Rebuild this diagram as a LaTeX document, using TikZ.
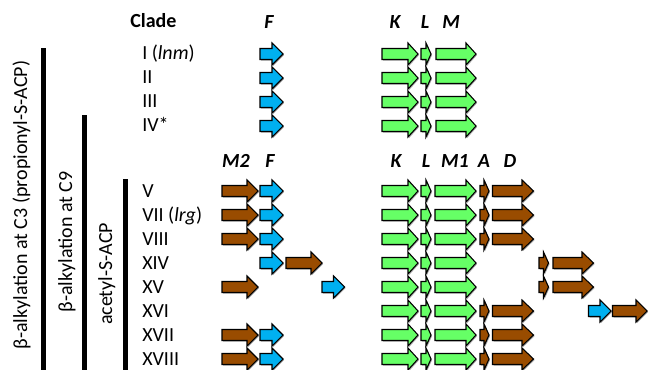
\documentclass[tikz,border=0pt]{standalone}
\usepackage{fontspec}
\setmainfont{Carlito}

\definecolor{genblue}{RGB}{0,176,240}
\definecolor{gengreen}{RGB}{102,255,102}
\definecolor{genbrown}{RGB}{153,76,0}

\tikzset{
  txt/.style={inner sep=0pt, font=\fontsize{15}{18}\selectfont},
  clade/.style={txt, anchor=base west},
  genehead/.style={txt, anchor=base, font=\fontsize{15}{18}\selectfont\bfseries\itshape},
  sidelabel/.style={txt, anchor=base, rotate=90},
  genebody/.style={draw=black, line width=0.8pt, line join=miter},
  geneshadow/.style={fill=black, opacity=0.35, xshift=0.8pt, yshift=-0.8pt},
  bar/.style={fill=black}
}

% gene arrow outline: x start, x end, y centre, head length
\newcommand\geneshape[4]{(#1,#3-5.5) -- (#2-#4,#3-5.5) -- (#2-#4,#3-11) -- (#2,#3)
  -- (#2-#4,#3+11) -- (#2-#4,#3+5.5) -- (#1,#3+5.5) -- cycle}
% gene arrow: colour, x start, x end, y centre, head length
\newcommand\gene[5]{%
  \path[geneshadow] \geneshape{#2}{#3}{#4}{#5};
  \draw[genebody, fill=#1] \geneshape{#2}{#3}{#4}{#5};}

\begin{document}
\begin{tikzpicture}[x=0.75pt, y=-0.75pt]
\useasboundingbox (0,0) rectangle (648,370);

% column headings
\node[clade] (hclade) at (130,28) {\textbf{Clade}};
\node[genehead] (hF1) at (269,29) {F};
\node[genehead] (hK1) at (395,29) {K};
\node[genehead] (hL1) at (425,29) {L};
\node[genehead] (hM1) at (451,29) {M};

\node[genehead] (hM2b) at (236,168) {M2};
\node[genehead] (hFb) at (270,168) {F};
\node[genehead] (hKb) at (396,168) {K};
\node[genehead] (hLb) at (426,168) {L};
\node[genehead] (hMb) at (455,168) {M1};
\node[genehead] (hAb) at (484,168) {A};
\node[genehead] (hDb) at (510,168) {D};

% grouping bars and their labels
\fill[bar] (41,48) rectangle (46,370);
\fill[bar] (82,115) rectangle (87,370);
\fill[bar] (123,179) rectangle (128,370);
\node[sidelabel] (g1) at (27,205) {β-alkylation at C3 (propionyl-S-ACP)};
\node[sidelabel] (g2) at (72,242) {β-alkylation at C9};
\node[sidelabel] (g3) at (112,274) {acetyl-S-ACP};

% clades with propionyl starter
\foreach \y/\lab [count=\i] in {54/{I (\textit{lnm})},78/II,102/III,126/{IV*}} {
  \node[clade] (ca\i) at (142,\y+6) {\lab};
  \gene{genblue}{260}{283}{\y}{11}
  \gene{gengreen}{382}{418}{\y}{10}
  \gene{gengreen}{421}{431}{\y}{5}
  \gene{gengreen}{436}{476}{\y}{10}
}

% clades with acetyl starter
\foreach \y/\lab [count=\i] in {191/V,215/{VII (\textit{lrg})},239/VIII,263/XIV,287/XV,311/XVI,335/XVII,359/XVIII} {
  \node[clade] (cb\i) at (142,\y+6) {\lab};
  \gene{gengreen}{382}{418}{\y}{10}
  \gene{gengreen}{421}{431}{\y}{5}
  \gene{gengreen}{435}{476}{\y}{10}
}

% M2 + F upstream pairs
\foreach \y in {191,215,239,335,359} {
  \gene{genbrown}{222}{258}{\y}{11}
  \gene{genblue}{260}{283}{\y}{11}
}
% A + D downstream pairs
\foreach \y in {191,215,239,311,335,359} {
  \gene{genbrown}{480}{489}{\y}{5}
  \gene{genbrown}{492.5}{533.5}{\y}{11.5}
}

% XIV
\gene{genblue}{260}{283}{263}{11}
\gene{genbrown}{286}{322}{263}{11}
\gene{genbrown}{539}{548.5}{263}{5}
\gene{genbrown}{553}{593.5}{263}{11.5}
% XV
\gene{genbrown}{222}{258}{287}{11}
\gene{genblue}{322}{344.5}{287}{11}
\gene{genbrown}{539}{548.5}{287}{5}
\gene{genbrown}{553}{593.5}{287}{11.5}
% XVI
\gene{genblue}{588.5}{611}{311}{11}
\gene{genbrown}{612.5}{647}{311}{11}
\end{tikzpicture}
\end{document}
